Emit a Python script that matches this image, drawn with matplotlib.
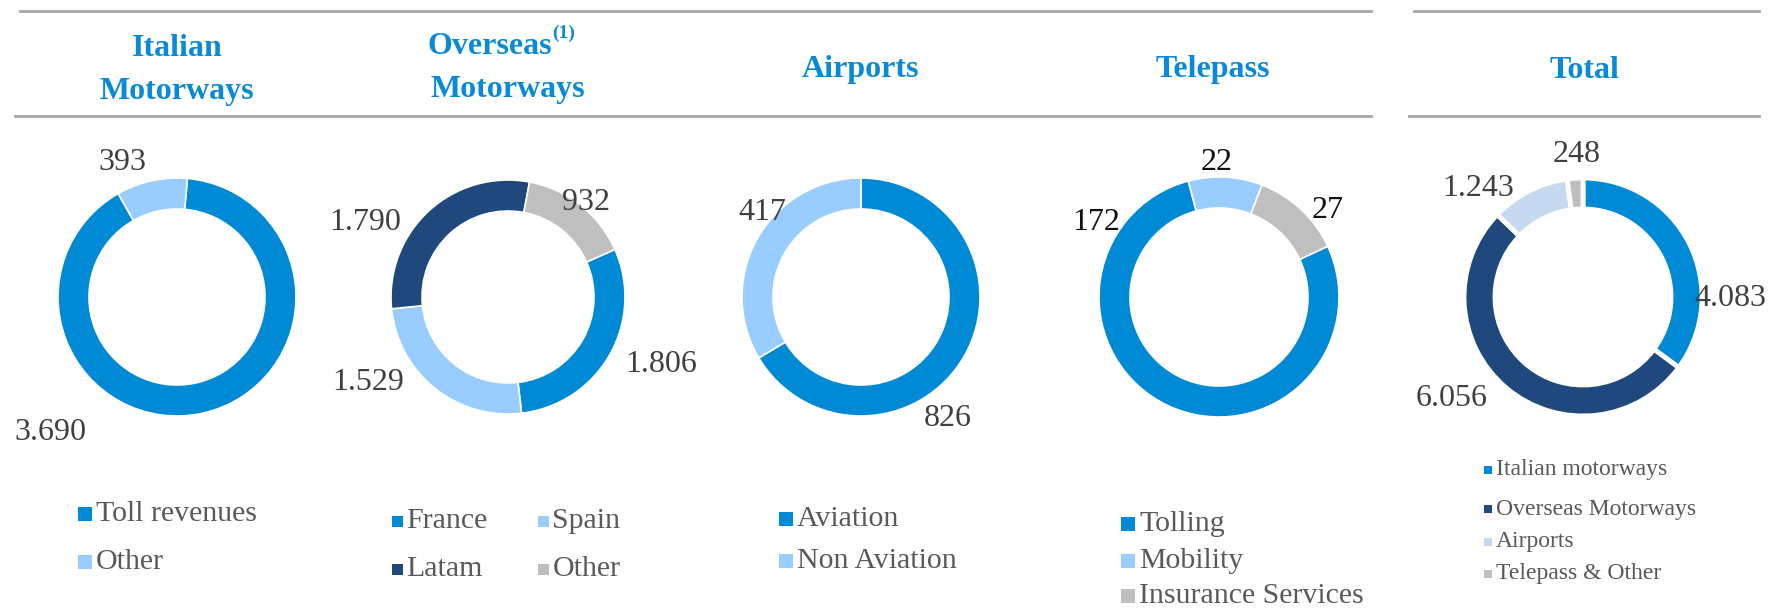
import matplotlib.pyplot as plt
from matplotlib.patches import Rectangle

W, H = 1777, 608

plt.rcParams['font.family'] = ['Liberation Serif', 'DejaVu Serif']

BLUE = '#008AD5'
LIGHT = '#99CCFF'
NAVY = '#1F497D'
GREY = '#BFBFBF'
PALE = '#C6D9F1'
TITLE = '#0A8AD6'
LABEL = '#404040'
LEGTXT = '#595959'

# data
italian_labels = ['Toll revenues', 'Other']
italian_values = [3690, 393]
overseas_labels = ['France', 'Spain', 'Latam', 'Other']
overseas_values = [1806, 1529, 1790, 932]
airports_labels = ['Aviation', 'Non Aviation']
airports_values = [826, 417]
telepass_labels = ['Tolling', 'Mobility', 'Insurance Services']
telepass_values = [172, 22, 27]
total_labels = ['Italian motorways', 'Overseas Motorways', 'Airports', 'Telepass & Other']
total_values = [4083, 6056, 1243, 248]


# pixel rows are measured from the top of the picture
def Y(y):
    return H - y


def fmt(v):
    return f"{v:,}".replace(',', '.')


fig = plt.figure(figsize=(W / 100, H / 100), dpi=100)
ax = fig.add_axes([0, 0, 1, 1])


def donut(values, colors, cx, r, start, lw=1.2):
    ax.pie(values, colors=colors, center=(cx, Y(297)), radius=r, startangle=start,
           counterclock=False,
           wedgeprops=dict(width=31, edgecolor='white', linewidth=lw))


def value_labels(values, spots, color=LABEL):
    for v, (x, y) in zip(values, spots):
        ax.text(x, Y(y), fmt(v), ha='center', va='center', fontsize=23, color=color)


def legend(labels, colors, spots, size=14, fs=21.5):
    for lab, col, (x, y) in zip(labels, colors, spots):
        ax.add_patch(Rectangle((x - size / 2, Y(y) - size / 2), size, size,
                               facecolor=col, edgecolor='none'))
        ax.text(x + size / 2 + 4, Y(y), lab, ha='left', va='center',
                fontsize=fs, color=LEGTXT)


# donuts
donut(italian_values, [BLUE, LIGHT], 177, 119, 85)
donut(overseas_values, [BLUE, LIGHT, NAVY, GREY], 508, 117, 24)
donut(airports_values, [BLUE, LIGHT], 861, 119, 90)
donut(telepass_values, [BLUE, LIGHT, GREY], 1219, 120, 25)
donut(total_values, [BLUE, NAVY, PALE, GREY], 1583, 119, 90, lw=3.5)

# value labels
value_labels(italian_values, [(50, 433), (122, 162)])
value_labels(overseas_values, [(661, 364), (368, 383), (365, 222), (586, 202)])
value_labels(airports_values, [(948, 419), (762, 212)])
value_labels(telepass_values, [(1096, 222), (1217, 162), (1328, 211)], color='#111111')
value_labels(total_values, [(1730, 298), (1452, 399), (1478, 188), (1577, 155)])

# legends
legend(italian_labels, [BLUE, LIGHT], [(85, 514), (85, 562)])
legend(overseas_labels, [BLUE, LIGHT, NAVY, GREY],
       [(397, 521), (543, 521), (397, 569), (543, 569)], size=11)
legend(airports_labels, [BLUE, LIGHT], [(786, 519), (786, 561)])
legend(telepass_labels, [BLUE, LIGHT, GREY], [(1128, 524), (1128, 561), (1128, 596)])
legend(total_labels, [BLUE, NAVY, PALE, GREY],
       [(1488, 470), (1488, 509), (1488, 542), (1488, 574)], size=8, fs=17)

# header rules
for x0, x1 in [(20, 1371), (1414, 1759)]:
    ax.plot([x0, x1], [Y(11), Y(11)], color='#A6A6A6', lw=2)
    ax.plot([x0 - 5, x1], [Y(116), Y(116)], color='#A6A6A6', lw=2)

# titles
tkw = dict(ha='center', va='center', fontsize=23, fontweight='bold', color=TITLE)
ax.text(177, Y(48), 'Italian', **tkw)
ax.text(177, Y(91), 'Motorways', **tkw)
t = ax.text(490, Y(46), 'Overseas', **tkw)
ax.annotate('(1)', xy=(1.0, 0.95), xycoords=t, ha='left', va='center',
            fontsize=14, fontweight='bold', color=TITLE)
ax.text(508, Y(89), 'Motorways', **tkw)
ax.text(861, Y(70), 'Airports', **tkw)
ax.text(1213, Y(70), 'Telepass', **tkw)
ax.text(1584, Y(70), 'Total', **tkw)

ax.set_xlim(0, W)
ax.set_ylim(0, H)
ax.set_aspect('auto')
ax.axis('off')

fig.savefig('out.png', dpi=100, facecolor='white')
